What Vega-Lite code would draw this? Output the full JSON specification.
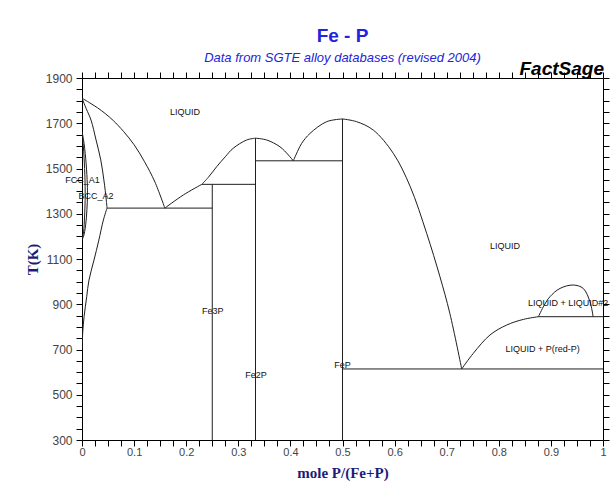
{
  "$schema": "https://vega.github.io/schema/vega-lite/v6.json",
  "width": 521,
  "height": 362,
  "autosize": {"type": "none"},
  "padding": {"left": 82, "top": 78, "right": 13, "bottom": 45},
  "background": "white",
  "config": {
    "view": {"stroke": "#000", "strokeWidth": 1},
    "axis": {"grid": false, "domain": false, "zindex": 1}
  },
  "title": {
    "text": "Fe - P",
    "subtitle": "Data from SGTE alloy databases (revised 2004)",
    "font": "Liberation Sans",
    "fontSize": 19,
    "fontWeight": "bold",
    "color": "#2424e0",
    "subtitleFont": "Liberation Sans",
    "subtitleFontSize": 13,
    "subtitleFontStyle": "italic",
    "subtitleColor": "#2424d8",
    "subtitlePadding": 6,
    "offset": -5,
    "anchor": "middle",
    "frame": "group"
  },
  "resolve": {"axis": {"x": "independent", "y": "independent"}},
  "layer": [
    {
      "data": {"values": [
        {"s":"L1","o":0,"x":0,"t":1811},{"s":"L1","o":1,"x":0.015,"t":1790},{"s":"L1","o":2,"x":0.03,"t":1768},{"s":"L1","o":3,"x":0.045,"t":1742},{"s":"L1","o":4,"x":0.06,"t":1712},{"s":"L1","o":5,"x":0.08,"t":1663},{"s":"L1","o":6,"x":0.1,"t":1605},{"s":"L1","o":7,"x":0.12,"t":1530},{"s":"L1","o":8,"x":0.14,"t":1440},{"s":"L1","o":9,"x":0.159,"t":1325},
        {"s":"E1","o":0,"x":0.048,"t":1325},{"s":"E1","o":1,"x":0.25,"t":1325},
        {"s":"L2","o":0,"x":0.159,"t":1325},{"s":"L2","o":1,"x":0.1945,"t":1383},{"s":"L2","o":2,"x":0.23,"t":1430},
        {"s":"P1","o":0,"x":0.23,"t":1430},{"s":"P1","o":1,"x":0.333,"t":1430},
        {"s":"L3","o":0,"x":0.23,"t":1430},{"s":"L3","o":1,"x":0.2425,"t":1461},{"s":"L3","o":2,"x":0.2585,"t":1508},{"s":"L3","o":3,"x":0.275,"t":1552},{"s":"L3","o":4,"x":0.29,"t":1589},{"s":"L3","o":5,"x":0.316,"t":1626},{"s":"L3","o":6,"x":0.333,"t":1634},
        {"s":"L4","o":0,"x":0.333,"t":1634},{"s":"L4","o":1,"x":0.3545,"t":1626},{"s":"L4","o":2,"x":0.38,"t":1596},{"s":"L4","o":3,"x":0.396,"t":1560},{"s":"L4","o":4,"x":0.4056,"t":1534},
        {"s":"E2","o":0,"x":0.333,"t":1534},{"s":"E2","o":1,"x":0.5,"t":1534},
        {"s":"L5","o":0,"x":0.4056,"t":1534},{"s":"L5","o":1,"x":0.415,"t":1582},{"s":"L5","o":2,"x":0.4216,"t":1611},{"s":"L5","o":3,"x":0.4376,"t":1655},{"s":"L5","o":4,"x":0.4696,"t":1707},{"s":"L5","o":5,"x":0.5,"t":1719},
        {"s":"L6","o":0,"x":0.5,"t":1719},{"s":"L6","o":1,"x":0.527,"t":1707},{"s":"L6","o":2,"x":0.559,"t":1670},{"s":"L6","o":3,"x":0.5975,"t":1567},{"s":"L6","o":4,"x":0.63,"t":1420},{"s":"L6","o":5,"x":0.6616,"t":1213},{"s":"L6","o":6,"x":0.687,"t":1022},{"s":"L6","o":7,"x":0.706,"t":860},{"s":"L6","o":8,"x":0.7288,"t":614},
        {"s":"E3","o":0,"x":0.5,"t":614},{"s":"E3","o":1,"x":1,"t":614},
        {"s":"L7","o":0,"x":0.7288,"t":614},{"s":"L7","o":1,"x":0.751,"t":683},{"s":"L7","o":2,"x":0.783,"t":764},{"s":"L7","o":3,"x":0.815,"t":808},{"s":"L7","o":4,"x":0.847,"t":833},{"s":"L7","o":5,"x":0.876,"t":845},
        {"s":"M1","o":0,"x":0.876,"t":845},{"s":"M1","o":1,"x":1,"t":845},
        {"s":"D1","o":0,"x":0.876,"t":845},{"s":"D1","o":1,"x":0.887,"t":895},{"s":"D1","o":2,"x":0.898,"t":933},{"s":"D1","o":3,"x":0.9175,"t":970},{"s":"D1","o":4,"x":0.943,"t":985},{"s":"D1","o":5,"x":0.962,"t":970},{"s":"D1","o":6,"x":0.975,"t":911},{"s":"D1","o":7,"x":0.981,"t":845},
        {"s":"V1","o":0,"x":0.25,"t":1430},{"s":"V1","o":1,"x":0.25,"t":300},
        {"s":"V2","o":0,"x":0.333,"t":1634},{"s":"V2","o":1,"x":0.333,"t":300},
        {"s":"V3","o":0,"x":0.5,"t":1719},{"s":"V3","o":1,"x":0.5,"t":300},
        {"s":"S1","o":0,"x":0,"t":1811},{"s":"S1","o":1,"x":0.008,"t":1765},{"s":"S1","o":2,"x":0.0173,"t":1714},{"s":"S1","o":3,"x":0.027,"t":1626},{"s":"S1","o":4,"x":0.036,"t":1538},{"s":"S1","o":5,"x":0.042,"t":1449},{"s":"S1","o":6,"x":0.0466,"t":1361},{"s":"S1","o":7,"x":0.048,"t":1325},
        {"s":"S2","o":0,"x":0.048,"t":1325},{"s":"S2","o":1,"x":0.041,"t":1272},{"s":"S2","o":2,"x":0.032,"t":1180},{"s":"S2","o":3,"x":0.023,"t":1095},{"s":"S2","o":4,"x":0.0134,"t":1007},{"s":"S2","o":5,"x":0.009,"t":933},{"s":"S2","o":6,"x":0.004,"t":845},{"s":"S2","o":7,"x":0.0015,"t":780},{"s":"S2","o":8,"x":0,"t":700},
        {"s":"G1","o":0,"x":0,"t":1665},{"s":"G1","o":1,"x":0.004,"t":1610},{"s":"G1","o":2,"x":0.008,"t":1520},{"s":"G1","o":3,"x":0.0102,"t":1430},{"s":"G1","o":4,"x":0.0105,"t":1380},{"s":"G1","o":5,"x":0.0095,"t":1320},{"s":"G1","o":6,"x":0.007,"t":1250},{"s":"G1","o":7,"x":0.003,"t":1200},{"s":"G1","o":8,"x":0,"t":1185},
        {"s":"G2","o":0,"x":0,"t":1665},{"s":"G2","o":1,"x":0.0025,"t":1600},{"s":"G2","o":2,"x":0.005,"t":1500},{"s":"G2","o":3,"x":0.006,"t":1420},{"s":"G2","o":4,"x":0.006,"t":1360},{"s":"G2","o":5,"x":0.005,"t":1290},{"s":"G2","o":6,"x":0.003,"t":1220},{"s":"G2","o":7,"x":0,"t":1185}
      ]},
      "mark": {"type": "line", "color": "#1e1e1e", "strokeWidth": 1, "clip": true, "interpolate": "catmull-rom"},
      "encoding": {
        "x": {
          "field": "x", "type": "quantitative",
          "scale": {"domain": [0, 1], "nice": false, "zero": false},
          "axis": {
            "orient": "bottom",
            "values": [0,0.025,0.05,0.075,0.1,0.125,0.15,0.175,0.2,0.225,0.25,0.275,0.3,0.325,0.35,0.375,0.4,0.425,0.45,0.475,0.5,0.525,0.55,0.575,0.6,0.625,0.65,0.675,0.7,0.725,0.75,0.775,0.8,0.825,0.85,0.875,0.9,0.925,0.95,0.975,1],
            "labelExpr": "abs(datum.value*10 - round(datum.value*10)) < 0.001 ? format(datum.value, '~g') : ''",
            "labelFont": "Liberation Sans", "labelFontSize": 11, "labelColor": "#444",
            "labelPadding": 0, "labelFlush": false, "labelOverlap": false,
            "tickSize": 6, "tickColor": "#000", "tickWidth": 1,
            "encode": {"ticks": {"enter": {"y2": {"signal": "abs(datum.value*10 - round(datum.value*10)) < 0.001 ? -6 : -3"}}, "update": {"y2": {"signal": "abs(datum.value*10 - round(datum.value*10)) < 0.001 ? -6 : -3"}}}},
            "title": "mole P/(Fe+P)",
            "titleFont": "Liberation Serif", "titleFontSize": 15, "titleFontWeight": "bold", "titleColor": "#1c1c78",
            "titleBaseline": "middle", "titleY": 32
          }
        },
        "y": {
          "field": "t", "type": "quantitative",
          "scale": {"domain": [300, 1900], "nice": false, "zero": false},
          "axis": {
            "orient": "left",
            "values": [300,350,400,450,500,550,600,650,700,750,800,850,900,950,1000,1050,1100,1150,1200,1250,1300,1350,1400,1450,1500,1550,1600,1650,1700,1750,1800,1850,1900],
            "labelExpr": "datum.value % 200 == 100 ? format(datum.value, 'd') : ''",
            "labelFont": "Liberation Sans", "labelFontSize": 12, "labelColor": "#444",
            "labelPadding": 4, "labelOverlap": false, "labelFlush": false,
            "tickSize": 6, "tickColor": "#000", "tickWidth": 1,
            "encode": {"ticks": {"enter": {"x2": {"signal": "datum.value % 200 == 100 ? 6 : 3"}}, "update": {"x2": {"signal": "datum.value % 200 == 100 ? 6 : 3"}}}},
            "title": "T(K)",
            "titleFont": "Liberation Serif", "titleFontSize": 15, "titleFontWeight": "bold", "titleColor": "#1c1c78",
            "titleAngle": -90, "titleBaseline": "middle", "titleAlign": "center",
            "titleX": -50, "titleY": 181
          }
        },
        "detail": {"field": "s"},
        "order": {"field": "o"}
      }
    },
    {
      "data": {"values": [
        {"x": 0.1977, "t": 1750, "label": "LIQUID"},
        {"x": 0.812, "t": 1157, "label": "LIQUID"},
        {"x": 0.001, "t": 1449, "label": "FCC_A1"},
        {"x": 0.027, "t": 1378, "label": "BCC_A2"},
        {"x": 0.251, "t": 871, "label": "Fe3P"},
        {"x": 0.334, "t": 587, "label": "Fe2P"},
        {"x": 0.5, "t": 630, "label": "FeP"},
        {"x": 0.933, "t": 904, "label": "LIQUID + LIQUID#2"},
        {"x": 0.884, "t": 701, "label": "LIQUID + P(red-P)"}
      ]},
      "mark": {"type": "text", "font": "Liberation Sans", "fontSize": 9, "color": "#111", "align": "center", "baseline": "middle"},
      "encoding": {
        "x": {
          "field": "x", "type": "quantitative",
          "scale": {"domain": [0, 1], "nice": false, "zero": false},
          "axis": {
            "orient": "top",
            "values": [0,0.025,0.05,0.075,0.1,0.125,0.15,0.175,0.2,0.225,0.25,0.275,0.3,0.325,0.35,0.375,0.4,0.425,0.45,0.475,0.5,0.525,0.55,0.575,0.6,0.625,0.65,0.675,0.7,0.725,0.75,0.775,0.8,0.825,0.85,0.875,0.9,0.925,0.95,0.975,1],
            "labels": false, "title": null,
            "tickSize": 6, "tickColor": "#000", "tickWidth": 1,
            "encode": {"ticks": {"enter": {"y2": {"signal": "abs(datum.value*10 - round(datum.value*10)) < 0.001 ? 6 : 3"}}, "update": {"y2": {"signal": "abs(datum.value*10 - round(datum.value*10)) < 0.001 ? 6 : 3"}}}}
          }
        },
        "y": {
          "field": "t", "type": "quantitative",
          "scale": {"domain": [300, 1900], "nice": false, "zero": false},
          "axis": {
            "orient": "right",
            "values": [300,350,400,450,500,550,600,650,700,750,800,850,900,950,1000,1050,1100,1150,1200,1250,1300,1350,1400,1450,1500,1550,1600,1650,1700,1750,1800,1850,1900],
            "labels": false, "title": null,
            "tickSize": 6, "tickColor": "#000", "tickWidth": 1,
            "encode": {"ticks": {"enter": {"x2": {"signal": "datum.value % 200 == 100 ? -6 : -3"}}, "update": {"x2": {"signal": "datum.value % 200 == 100 ? -6 : -3"}}}}
          }
        },
        "text": {"field": "label"}
      }
    },
    {
      "data": {"values": [{"x": 1, "t": 1900, "label": "FactSage"}]},
      "mark": {"type": "text", "font": "Liberation Sans", "fontSize": 19, "fontWeight": "bold", "fontStyle": "italic", "color": "#000", "align": "right", "baseline": "alphabetic", "dy": -3, "dx": 1},
      "encoding": {
        "x": {"field": "x", "type": "quantitative", "scale": {"domain": [0, 1], "nice": false, "zero": false}, "axis": null},
        "y": {"field": "t", "type": "quantitative", "scale": {"domain": [300, 1900], "nice": false, "zero": false}, "axis": null},
        "text": {"field": "label"}
      }
    }
  ]
}
